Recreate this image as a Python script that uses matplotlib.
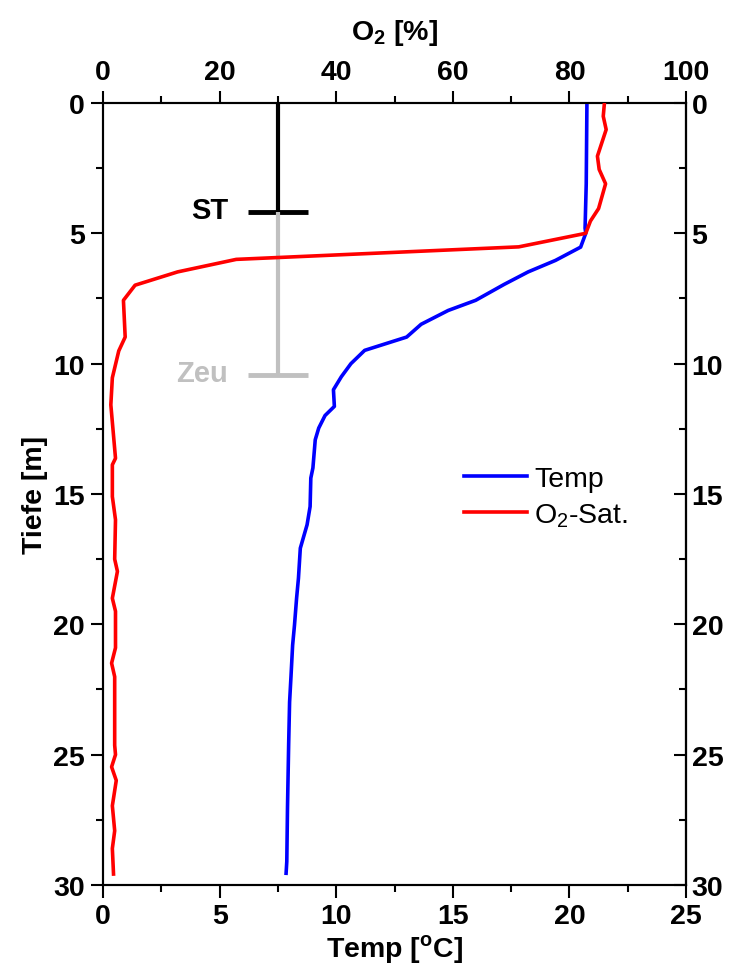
import matplotlib
matplotlib.use("Agg")
import matplotlib.pyplot as plt

plt.rcParams['font.family'] = ['Liberation Sans', 'DejaVu Sans']
plt.rcParams['mathtext.fontset'] = 'custom'
plt.rcParams['mathtext.rm'] = 'Liberation Sans'
plt.rcParams['mathtext.bf'] = 'Liberation Sans:bold'

# temperature profile (bottom axis)
depth_t = [0, 3.1, 4.8, 5.0, 5.53, 6.04, 6.48, 6.96, 7.57, 7.96, 8.49, 8.98, 9.49, 10.0,
           10.5, 11.0, 11.64, 11.99, 12.47, 12.92, 14.0, 14.39, 15.48, 16.18, 17.08, 18.23,
           19.0, 20.03, 20.8, 22.0, 22.98, 24.6, 27.05, 29.1, 29.55]
temp = [20.75, 20.72, 20.67, 20.7, 20.48, 19.4, 18.23, 17.2, 15.98, 14.8, 13.64, 13.02, 11.22,
        10.63, 10.22, 9.88, 9.92, 9.52, 9.25, 9.1, 9.0, 8.91, 8.88, 8.75, 8.46, 8.38, 8.3,
        8.21, 8.13, 8.06, 8.0, 7.96, 7.91, 7.88, 7.85]

# oxygen saturation (top axis)
depth_o = [0, 0.51, 1.02, 2.04, 2.55, 3.1, 4.05, 4.53, 5.0, 5.52, 6.0, 6.48, 6.99, 7.57, 8.98,
           9.51, 10.54, 11.58, 13.63, 13.88, 15.1, 15.99, 17.5, 17.97, 19.0, 19.5, 20.9, 21.49,
           22.01, 24.64, 25.0, 25.47, 25.99, 26.96, 27.92, 28.6, 29.58]
o2 = [86.0, 85.8, 86.3, 84.8, 85.1, 86.2, 85.0, 83.6, 82.8, 71.3, 22.85, 12.8, 5.5, 3.5, 3.8,
      2.7, 1.6, 1.34, 2.14, 1.6, 1.6, 2.14, 2.0, 2.47, 1.6, 2.14, 2.14, 1.47, 2.0, 2.0, 2.14,
      1.47, 2.27, 1.6, 2.0, 1.6, 1.8]

# Secchi depth (ST) and euphotic depth (Zeu), drawn at O2 = 30 %
marker_x = 30
st_depth = 4.2
zeu_depth = 10.45
bar_half = 5.2

FS = 20.5

fig = plt.figure(figsize=(7.38, 9.79), dpi=100)
ax = fig.add_axes([0.1396, 0.095, 0.79, 0.7988])
ax2 = ax.twiny()

l1, = ax.plot(temp, depth_t, color='#0000ff', lw=2.6, zorder=3)
l2, = ax2.plot(o2, depth_o, color='#ff0000', lw=2.6, zorder=3)

ax2.plot([marker_x, marker_x], [0, st_depth], color='black', lw=3, solid_capstyle='butt')
ax2.plot([marker_x - bar_half, marker_x + bar_half], [st_depth, st_depth], color='black', lw=3.5, solid_capstyle='butt')
ax2.plot([marker_x, marker_x], [st_depth, zeu_depth], color='#c0c0c0', lw=3, solid_capstyle='butt')
ax2.plot([marker_x - bar_half, marker_x + bar_half], [zeu_depth, zeu_depth], color='#c0c0c0', lw=3.5, solid_capstyle='butt')
ax2.text(21.5, st_depth - 0.1, 'ST', ha='right', va='center', fontsize=21, fontweight='bold')
ax2.text(21.5, zeu_depth - 0.1, 'Zeu', ha='right', va='center', fontsize=21, fontweight='bold', color='#c0c0c0')

ax.set_xlim(0, 25)
ax.set_ylim(30, 0)
ax2.set_xlim(0, 100)

ax.set_xticks([0, 5, 10, 15, 20, 25])
ax.set_xticks([2.5, 7.5, 12.5, 17.5, 22.5], minor=True)
ax.set_yticks([0, 5, 10, 15, 20, 25, 30])
ax.set_yticks([2.5, 7.5, 12.5, 17.5, 22.5, 27.5], minor=True)
ax2.set_xticks([0, 20, 40, 60, 80, 100])
ax2.set_xticks([10, 30, 50, 70, 90], minor=True)

for a in (ax, ax2):
    a.tick_params(which='major', direction='out', length=9, width=1.5, labelsize=FS, pad=4)
    a.tick_params(which='minor', direction='out', length=5, width=1.5)
    for lab in a.get_xticklabels() + a.get_yticklabels():
        lab.set_fontweight('bold')
    for s in a.spines.values():
        s.set_linewidth(1.5)

ax_r = ax.secondary_yaxis('right')
ax_r.set_yticks([0, 5, 10, 15, 20, 25, 30])
ax_r.set_yticks([2.5, 7.5, 12.5, 17.5, 22.5, 27.5], minor=True)
ax_r.tick_params(which='major', direction='in', length=9, width=1.5, labelsize=FS, pad=4)
ax_r.tick_params(which='minor', direction='in', length=5, width=1.5)
for lab in ax_r.get_yticklabels():
    lab.set_fontweight('bold')
ax_r.spines['right'].set_linewidth(1.5)

ax.set_xlabel(r'Temp [$^{\mathbf{o}}$C]', fontsize=FS, fontweight='bold', labelpad=2)
ax.set_ylabel('Tiefe [m]', fontsize=FS, fontweight='bold', labelpad=4)
ax2.set_xlabel(r'O$_{\mathbf{2}}$ [%]', fontsize=FS, fontweight='bold', labelpad=14)

ax.legend([l1, l2], ['Temp', r'O$_{\mathregular{2}}$-Sat.'], loc='upper left',
          bbox_to_anchor=(0.6, 0.55), frameon=False, fontsize=FS,
          handlelength=2.2, handletextpad=0.25, labelspacing=0.3, borderaxespad=0)

fig.savefig('out.png', dpi=100)
